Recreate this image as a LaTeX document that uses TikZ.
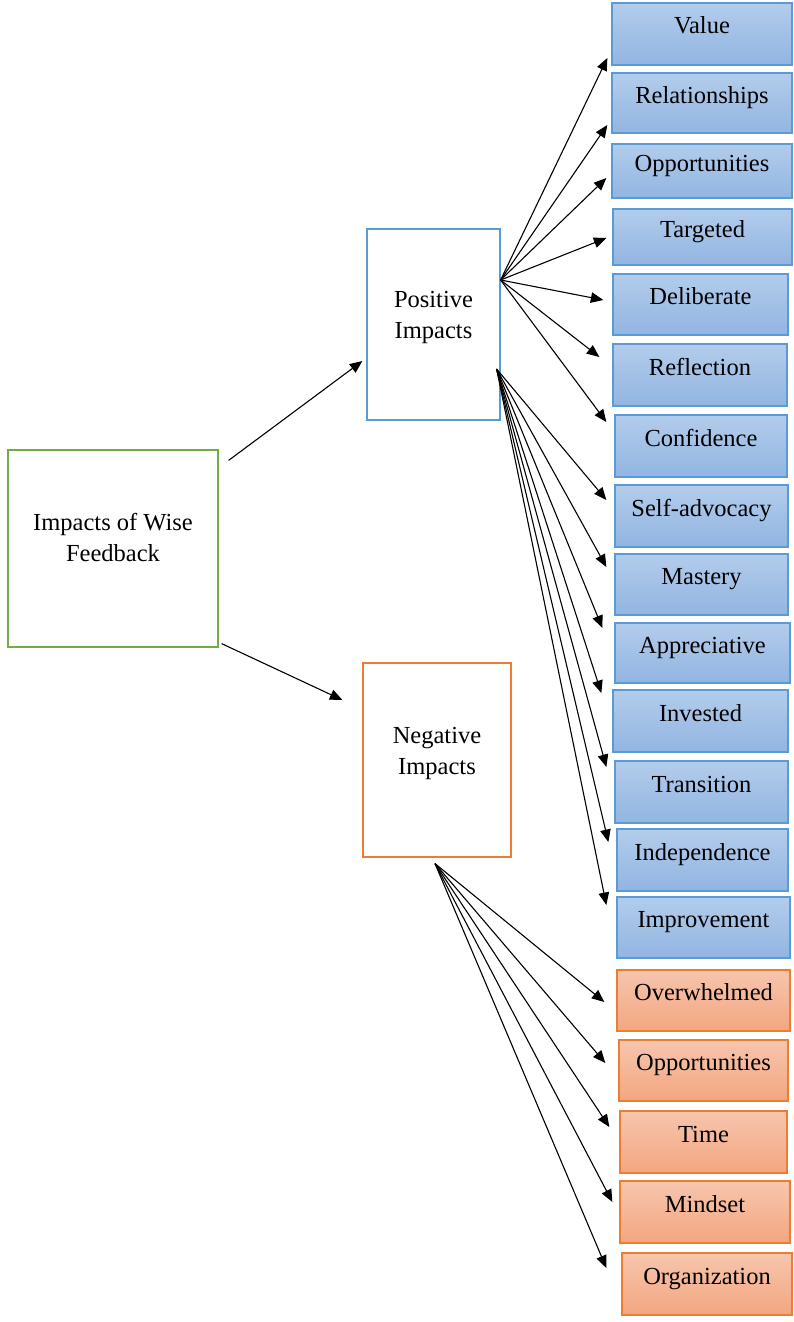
\documentclass[tikz,border=0pt]{standalone}
\usepackage{fontspec}
\setmainfont{Liberation Serif}
\usetikzlibrary{arrows.meta, calc}

\definecolor{blueline}{RGB}{91,155,213}
\definecolor{bluetop}{RGB}{179,204,235}
\definecolor{bluebot}{RGB}{145,181,226}
\definecolor{orangeline}{RGB}{237,125,49}
\definecolor{orangetop}{RGB}{247,197,174}
\definecolor{orangebot}{RGB}{243,166,128}
\definecolor{greenline}{RGB}{112,173,71}

\tikzset{
    mainbox/.style={draw, line width=1.2pt, inner sep=0pt},
    labelbox/.style={draw, line width=1.3pt, inner sep=0pt, text height=0pt, text depth=0pt,
                     minimum width=174pt, minimum height=61pt},
    posbox/.style={labelbox, draw=blueline, top color=bluetop, bottom color=bluebot},
    negbox/.style={labelbox, draw=orangeline, top color=orangetop, bottom color=orangebot},
}

\begin{document}
\begin{tikzpicture}[x=1pt, y=-1pt, font=\fontsize{24.5}{31}\selectfont,
                    >={Stealth[length=12.5pt, width=10.5pt, inset=0pt]}, line width=1.1pt]
        \useasboundingbox (0,0) rectangle (793,1322);

        \node[mainbox, draw=greenline, minimum width=210pt, minimum height=197pt] (wise) at (113,548.5) {};
        \node[mainbox, draw=blueline, minimum width=133pt, minimum height=191pt] (pos) at (433.5,324.5) {};
        \node[mainbox, draw=orangeline, minimum width=148pt, minimum height=194pt] (neg) at (437,760) {};
        \node[align=center] (wise_text) at ([yshift=11.5pt]wise.center) {Impacts of Wise\\Feedback};
        \node[align=center] (pos_text)  at ([yshift=6.6pt]pos.center) {Positive\\Impacts};
        \node[align=center] (neg_text)  at ([yshift=6.6pt]neg.center) {Negative\\Impacts};

        \node[posbox, minimum width=180pt, minimum height=62pt] (value)      at (702,34)      {Value};
        \node[posbox, minimum width=180pt, minimum height=60pt] (relation)   at (702,103)     {Relationships};
        \node[posbox, minimum width=180pt, minimum height=54pt] (oppos)      at (702,171)     {Opportunities};
        \node[posbox, minimum width=179pt, minimum height=56pt] (targeted)   at (702.5,237)   {Targeted};
        \node[posbox, minimum width=175pt]                      (deliberate) at (700.5,304.5) {Deliberate};
        \node[posbox, minimum height=62pt]                      (reflection) at (700,375)     {Reflection};
        \node[posbox, minimum width=172pt, minimum height=62pt] (confidence) at (701,446)     {Confidence};
        \node[posbox, minimum width=173pt, minimum height=62pt] (selfadv)    at (701.5,516)   {Self-advocacy};
        \node[posbox, minimum width=173pt]                      (mastery)    at (701.5,584.5) {Mastery};
        \node[posbox, minimum width=175pt, minimum height=60pt] (apprec)     at (702.5,653)   {Appreciative};
        \node[posbox, minimum width=175pt, minimum height=62pt] (invested)   at (700.5,721)   {Invested};
        \node[posbox, minimum width=173pt, minimum height=62pt] (transition) at (701.5,792)   {Transition};
        \node[posbox, minimum width=171pt, minimum height=62pt] (independ)   at (702.5,860)   {Independence};
        \node[posbox, minimum width=173pt]                      (improve)    at (703.5,927.5) {Improvement};

        \node[negbox, minimum width=173pt]                      (overwhelm)  at (703.5,1000.5) {Overwhelmed};
        \node[negbox, minimum width=169pt]                      (opponeg)    at (703.5,1070.5) {Opportunities};
        \node[negbox, minimum width=167pt, minimum height=62pt] (time)       at (703.5,1142)   {Time};
        \node[negbox, minimum width=170pt, minimum height=62pt] (mindset)    at (705,1212)     {Mindset};
        \node[negbox, minimum width=170pt, minimum height=62pt] (organize)   at (707,1284)     {Organization};

        \coordinate (pos_top) at ([shift={(0,-44.5)}]pos.east);
        \coordinate (pos_low) at ([shift={(-4,44.5)}]pos.east);
        \coordinate (neg_low) at ([shift={(-2,6)}]neg.south);

        \draw[->] ([shift={(10,11)}]wise.north east) -- ([shift={(-4,36.5)}]pos.west);
        \draw[->] ([shift={(3,-4)}]wise.south east) -- ([shift={(-20,-60)}]neg.west);

        \path[->] (pos_top) edge ([shift={(-4,24)}]value.west)
                            edge ([shift={(-4,22)}]relation.west)
                            edge ([shift={(-5,7)}]oppos.west)
                            edge ([shift={(-6,1)}]targeted.west)
                            edge ([shift={(-9,-4.5)}]deliberate.west)
                            edge ([shift={(-13,-18)}]reflection.west)
                            edge ([shift={(-8,-24)}]confidence.west)
                  (pos_low) edge ([shift={(-8,-16)}]selfadv.west)
                            edge ([shift={(-8,-17.5)}]mastery.west)
                            edge ([shift={(-12,-25)}]apprec.west)
                            edge ([shift={(-11,-28)}]invested.west)
                            edge ([shift={(-8,-25)}]transition.west)
                            edge ([shift={(-8,-18)}]independ.west)
                            edge ([shift={(-10,-22.5)}]improve.west)
                  (neg_low) edge ([shift={(-12,1.5)}]overwhelm.west)
                            edge ([shift={(-13,-7.5)}]opponeg.west)
                            edge ([shift={(-10,-15)}]time.west)
                            edge ([shift={(-7,-10)}]mindset.west)
                            edge ([shift={(-15,-16)}]organize.west);
\end{tikzpicture}
\end{document}
